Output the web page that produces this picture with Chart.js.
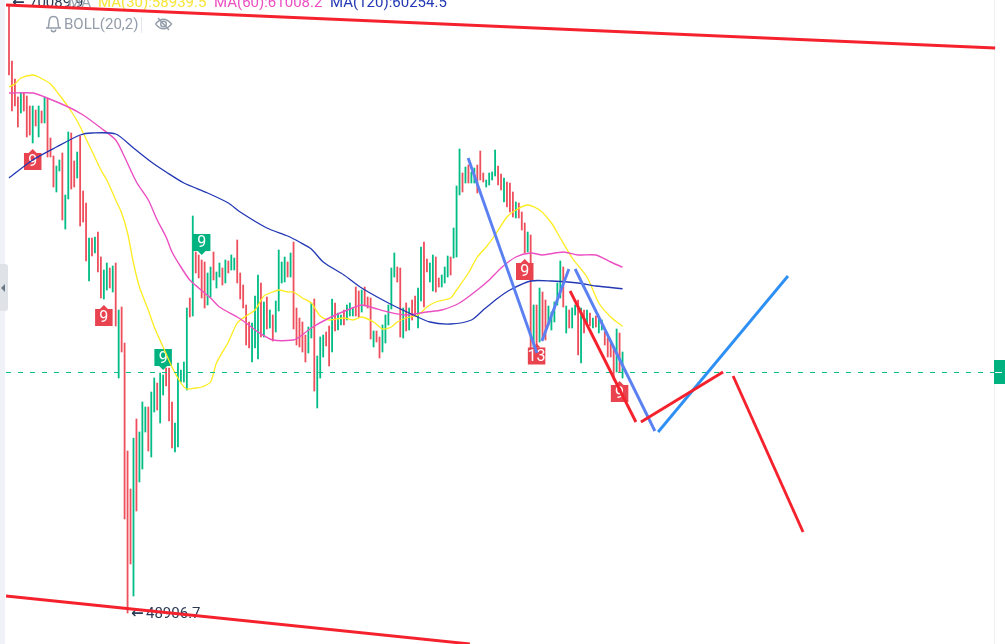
<!DOCTYPE html>
<html><head><meta charset="utf-8">
<style>html,body{margin:0;padding:0;background:#fff;overflow:hidden}canvas{display:block}</style>
<script src="https://cdn.jsdelivr.net/npm/chart.js@4/dist/chart.umd.js"></script>
</head><body>
<canvas id="c" width="1005" height="644"></canvas>
<script>
const candleTops = [70185,68225,67595,66965,67105,67105,67000,66650,66650,66510,66650,66475,66965,66930,65530,64900,64550,64760,65005,63535,65740,65705,64725,65040,65600,63675,63255,62030,62030,62065,62240,61365,60910,61155,60980,61050,61155,59510,59615,58355,54575,53245,55025,55695,55240,56290,56115,56115,56640,57130,56955,57305,57235,57480,57480,56290,55555,57655,57410,57690,59580,59930,62800,61540,61435,61260,61190,60805,61015,61540,60840,61155,60980,61260,61225,61435,61330,61960,60805,60385,59685,59090,59055,60000,60735,60455,59790,59965,59510,59335,59825,61610,61190,61365,61190,61505,61890,59580,59230,59090,58635,58915,59755,59895,57900,58565,58635,58740,58950,59895,59755,59405,59335,59510,59685,59755,59580,60315,60175,60210,60315,59965,59930,58775,58775,58565,58985,59335,59685,60980,61505,61015,60980,59580,59755,59580,59860,60000,60280,61715,61890,61295,61155,61435,61365,60630,60735,61015,61400,61365,62380,63850,65145,64305,64515,64585,64340,64480,64585,65075,64305,64060,64305,64340,65110,64550,64270,64130,63990,63955,63640,63290,63255,62940,62555,62240,62135,59685,59685,60280,60140,59860,59650,59440,59790,60455,61225,61015,59650,59510,59580,59685,59860,59580,59510,59510,59405,59230,59300,59195,59160,58740,58530,58390,58215,58845,58705,58040];
const candleBottoms = [67735,66475,66650,65915,66405,66475,65565,65635,65355,65950,65565,66055,66055,64865,64865,63815,63640,64375,62660,62345,63395,63745,63815,64130,62450,62590,61225,60525,61400,61505,60840,59930,59895,60210,60280,60140,58950,57130,58040,52195,48906.7,50620,49500,52475,53490,53945,55240,54575,54365,55940,56010,55555,56535,56850,55625,54680,54540,54715,56990,56990,56710,59265,59300,60805,60630,59930,59580,59685,59965,60560,60280,60665,60385,60455,60805,60910,60910,60455,59895,59580,58285,58180,57690,58180,57795,58565,58565,58845,58880,58425,58740,59475,60455,60490,60665,60665,58845,58285,58215,58040,57690,58005,58530,56675,56080,57130,57865,58250,57550,58040,58775,58810,58985,58985,59160,59300,59300,59300,59265,59440,59650,59580,58495,58215,58390,57830,58040,58355,58985,59545,60665,60490,58565,58530,58775,58810,59160,59300,58880,59825,59615,60840,60490,60175,60140,60315,60315,60455,60665,60735,61330,61365,63535,63640,63955,63955,63955,63955,63605,64060,63990,63815,63885,64060,64200,63885,63710,63290,63115,62940,62765,62730,62730,62310,61505,61540,58180,58215,58180,58390,58460,58460,58985,58810,59090,59685,59930,59615,58705,58880,58880,59335,57935,57655,58705,59055,58950,58880,58915,58705,58810,58285,57865,57865,57060,57340,57340,57130];
// indices of candles that closed lower (red); the rest closed higher (green)
const redCandles = [0,1,2,3,5,6,7,9,11,13,14,15,18,21,22,24,25,26,28,30,31,34,36,38,39,40,41,43,47,50,53,54,55,61,63,64,65,66,69,72,74,77,78,79,80,81,85,87,89,94,96,97,98,99,100,103,107,108,110,113,117,118,120,121,122,124,125,131,132,134,136,137,140,141,144,145,149,153,155,158,159,160,165,166,168,169,170,172,173,174,176,178,180,181,187,189,192,194,196,198,201,202,203,204,206];

const ma30Index = [0,2,4,8,10,14,17,20,23,27,31,33,36,38,40,42,44,47,49,52,55,58,60,63,65,68,70,74,77,80,83,86,89,91,94,96,99,102,105,108,113,116,119,123,126,129,131,134,138,141,144,149,151,155,158,161,164,168,171,175,179,183,186,190,195,199,203,207];
const ma30Values = [67315,67420,67630,67735,67665,67420,67035,66615,66125,65285,64410,64060,63360,62905,62205,61155,60315,59510,58915,58215,57515,56955,56745,56780,56815,56990,57655,58390,59055,59300,59510,60000,60140,60210,60140,60140,59930,59755,59300,59160,59230,59160,59265,59090,58845,58915,59090,59230,59335,59615,59790,59930,60210,60805,61365,61715,62135,62765,63010,63185,63010,62555,62030,61330,60665,59755,59265,58939.5];
const ma60Index = [0,8,12,20,25,31,36,39,43,47,50,53,55,58,61,64,68,71,77,80,84,89,96,98,102,108,115,119,123,128,134,141,146,152,158,162,166,171,176,180,187,192,198,203,207];
const ma60Values = [67105,67105,66965,66615,66335,65880,65460,64865,63990,63360,62660,62065,61540,61015,60560,60280,59930,59615,59265,59055,58740,58460,58460,58565,58880,59230,59545,59685,59580,59440,59335,59440,59510,59755,60210,60560,60980,61365,61505,61435,61540,61435,61435,61190,61008.2];
const ma120Index = [0,8,16,24,28,36,42,48,53,59,67,74,78,87,94,98,102,106,113,119,128,135,142,149,156,160,165,169,176,183,192,198,207];
const ma120Values = [64130,64760,65215,65635,65705,65670,65180,64690,64340,63955,63605,63255,62940,62380,62100,61890,61645,61190,60735,60280,59755,59405,59090,59020,59160,59510,59930,60210,60525,60525,60455,60350,60254.5];

const lastPrice = [57322];
const lowLabel = "48906.7";
const highLabel = "70089.9";
const arrowLabel = "←";
const legendLabels = ["MA", "MA(30):58939.5", "MA(60):61008.2", "MA(120):60254.5"];
const bollLabel = "BOLL(20,2)";

const redTagIndex = [8, 32, 174, 178, 206];
const redTagPrice = [64708, 59248, 60858, 57900, 56588];
const redTagText = ["9", "9", "9", "13", "9"];
const greenTagIndex = [52, 65];
const greenTagPrice = [57847, 61873];
const greenTagText = ["9", "9"];

// hand-drawn trend lines: [index, price, index, price]
const redTrendLines = [[-1,70185,332.7,68680],[-1,49500,155.5,47820],[189.3,60175,211.5,55590],[213.2,55590,240.9,57340],[244.3,57200,267.9,51740]];
const indigoTrendLines = [[154.9,64830,178.1,58005],[179.8,58425,188.9,60945],[191,60945,217.9,55275]];
const skyTrendLines = [[219,55240,262.8,60700]];

const C_RED = "#EE4F5C", C_GREEN = "#00BC85", C_YEL = "#FDEC1F", C_PINK = "#EC4FC2", C_NAVY = "#2238B4";

const redSet = new Set(redCandles);
const candleData = candleTops.map((t, i) => ({ x: i, y: [candleBottoms[i], t] }));
const candleColors = candleTops.map((t, i) => redSet.has(i) ? C_RED : C_GREEN);
const pts = (xs, ys) => xs.map((x, i) => ({ x, y: ys[i] }));
const lineDs = (data, color, w, extra) => Object.assign({ type: "line", data, borderColor: color, borderWidth: w, pointRadius: 0, tension: 0, fill: false, clip: false }, extra || {});
const trend = (seg, color) => lineDs([{ x: seg[0], y: seg[1] }, { x: seg[2], y: seg[3] }], color, 2.9, {borderCapStyle:"butt"});

function drawTag(ctx, cx, cy, txt, color, up) {
  ctx.save();
  ctx.fillStyle = color;
  const w = 17.5, h = 17;
  ctx.fillRect(cx - w / 2, cy - h / 2, w, h);
  ctx.beginPath();
  if (up) { ctx.moveTo(cx - 4, cy - h / 2); ctx.lineTo(cx, cy - h / 2 - 4); ctx.lineTo(cx + 4, cy - h / 2); }
  else { ctx.moveTo(cx - 4, cy + h / 2); ctx.lineTo(cx, cy + h / 2 + 4); ctx.lineTo(cx + 4, cy + h / 2); }
  ctx.closePath(); ctx.fill();
  ctx.fillStyle = "#fff";
  ctx.font = "16px Roboto, sans-serif";
  ctx.textAlign = "center"; ctx.textBaseline = "middle";
  ctx.fillText(txt, cx, cy + 1);
  ctx.restore();
}

const overlay = {
  id: "overlay",
  beforeDatasetsDraw(chart) {
    const ctx = chart.ctx, h = chart.height, w = chart.width;
    ctx.save();
    ctx.fillStyle = "#F0F2F7"; ctx.fillRect(0, 0, 5, h);
    ctx.fillStyle = "#DFE2E7";
    ctx.beginPath(); ctx.roundRect(-4, 264, 12, 47, 3); ctx.fill();
    ctx.fillStyle = "#6B7683";
    ctx.beginPath(); ctx.moveTo(1, 288); ctx.lineTo(5, 284); ctx.lineTo(5, 292); ctx.closePath(); ctx.fill();
    ctx.fillStyle = "#EEF0F3"; ctx.fillRect(994, 0, 1, h);
    ctx.fillStyle = "#00B27F"; ctx.fillRect(994, 360, 11, 24);
    ctx.fillStyle = "#fff"; ctx.fillRect(995, 372, 7, 1);
    // legend
    ctx.textBaseline = "alphabetic"; ctx.textAlign = "left";
    ctx.font = "15px Roboto, sans-serif";
    ctx.fillStyle = "#2B3A55"; ctx.fillText(highLabel, 29, 7);
    ctx.fillStyle = "#9AA3AF"; ctx.fillText(legendLabels[0], 68, 7);
    ctx.fillStyle = "#F6E637"; ctx.fillText(legendLabels[1], 98, 7);
    ctx.fillStyle = C_PINK; ctx.fillText(legendLabels[2], 214, 7);
    ctx.fillStyle = C_NAVY; ctx.fillText(legendLabels[3], 330, 7);
    ctx.fillStyle = "#949DAA"; ctx.fillText(bollLabel, 64, 29);
    ctx.fillStyle = "#2B3A55"; ctx.fillText(lowLabel, 146, 618);
    ctx.font = "bold 15px 'DejaVu Sans', sans-serif";
    ctx.fillText(arrowLabel, 131, 618);
    ctx.fillText(arrowLabel, 12, 7);
    // bell
    ctx.strokeStyle = "#949DAA"; ctx.lineWidth = 1.5;
    ctx.beginPath(); ctx.moveTo(46, 28); ctx.lineTo(61, 28); ctx.moveTo(48, 28);
    ctx.bezierCurveTo(50, 23, 47.5, 16.5, 53.5, 16.5); ctx.bezierCurveTo(59.5, 16.5, 57, 23, 59, 28); ctx.stroke();
    ctx.beginPath(); ctx.arc(53.5, 29.5, 2.2, 0, Math.PI); ctx.stroke();
    ctx.strokeStyle = "#E4E7EC"; ctx.lineWidth = 1;
    ctx.beginPath(); ctx.moveTo(141.5, 17); ctx.lineTo(141.5, 33); ctx.stroke();
    // eye with strike
    ctx.strokeStyle = "#949DAA"; ctx.lineWidth = 1.4;
    ctx.beginPath(); ctx.moveTo(155.5, 24); ctx.quadraticCurveTo(163.5, 14.5, 171.5, 24); ctx.quadraticCurveTo(163.5, 33.5, 155.5, 24); ctx.stroke();
    ctx.beginPath(); ctx.arc(163.5, 24, 2.8, 0, 2 * Math.PI); ctx.stroke();
    ctx.beginPath(); ctx.moveTo(158, 18); ctx.lineTo(169, 30); ctx.stroke();
    ctx.restore();
  },
  afterDatasetDraw(chart, args) {
    if (args.index !== 0) return;
    const ctx = chart.ctx, xs = chart.scales.x, ys = chart.scales.y;
    redTagIndex.forEach((v, i) => drawTag(ctx, xs.getPixelForValue(v), ys.getPixelForValue(redTagPrice[i]), redTagText[i], "#E8434F", true));
    greenTagIndex.forEach((v, i) => drawTag(ctx, xs.getPixelForValue(v), ys.getPixelForValue(greenTagPrice[i]), greenTagText[i], "#00B27F", false));
  }
};

const datasets = [
  { type: "bar", data: candleData, backgroundColor: candleColors, barThickness: 1.15, borderWidth: 0, order: 100 },
  lineDs(pts(ma30Index, ma30Values), C_YEL, 1.3, { order: 50, tension: 0.25 }),
  lineDs(pts(ma60Index, ma60Values), C_PINK, 1.4, { order: 49, tension: 0.25 }),
  lineDs(pts(ma120Index, ma120Values), C_NAVY, 1.3, { order: 48, tension: 0.25 }),
  lineDs([{ x: -1, y: lastPrice[0] }, { x: 332.4, y: lastPrice[0] }], "#00C087", 1, { borderDash: [5, 7], order: 47 }),
  ...redTrendLines.map(s => Object.assign(trend(s, "#F5222D"), { order: 10 })),
  ...indigoTrendLines.map(s => Object.assign(trend(s, "#5B80F2"), { order: 11 })),
  ...skyTrendLines.map(s => Object.assign(trend(s, "#2E90F5"), { order: 12 }))
];

new Chart(document.getElementById("c"), {
  type: "bar",
  data: { datasets },
  plugins: [overlay],
  options: {
    responsive: false, animation: false, devicePixelRatio: 1,
    layout: { padding: 0 },
    plugins: { legend: { display: false }, tooltip: { enabled: false } },
    scales: {
      x: { type: "linear", min: -3.036, max: 336.03, display: false, offset: false },
      y: { type: "linear", min: 47820, max: 70360, display: false }
    }
  }
});
</script>
</body></html>
